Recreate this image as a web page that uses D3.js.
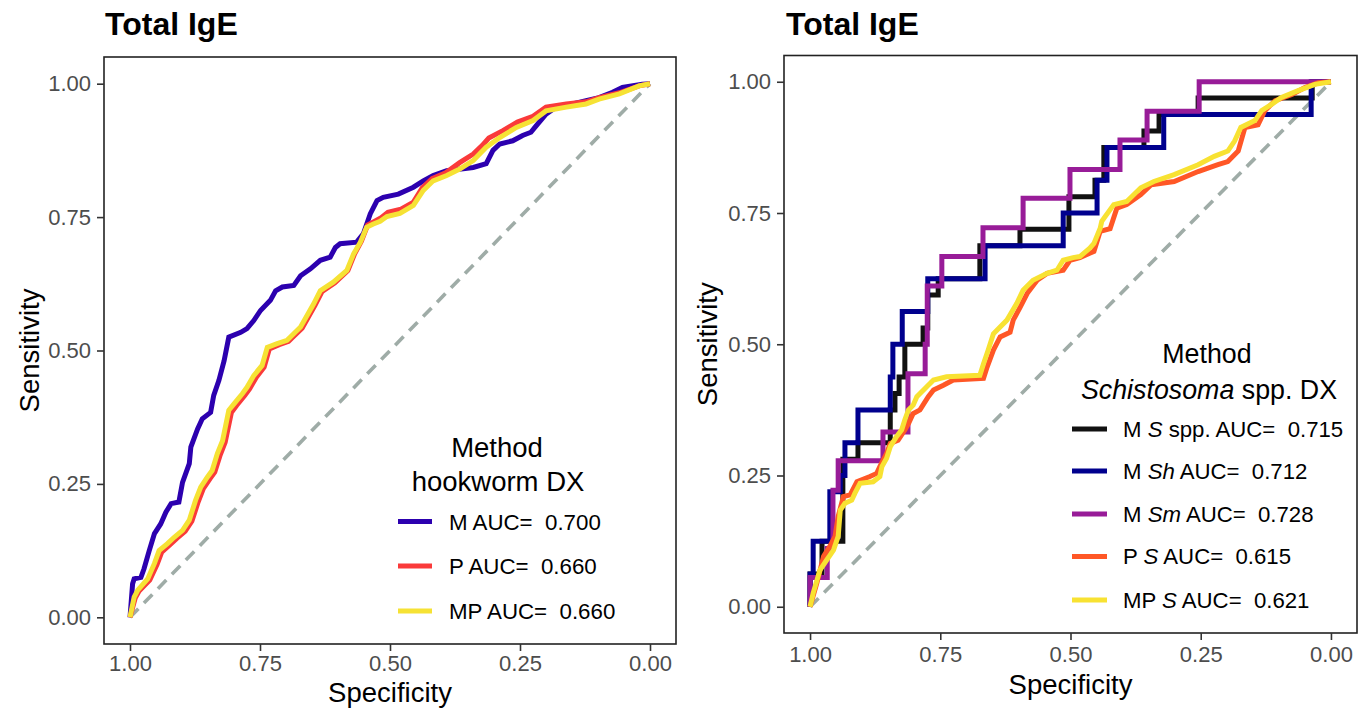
<!DOCTYPE html>
<html>
<head>
<meta charset="utf-8">
<script src="https://cdn.jsdelivr.net/npm/d3@7"></script>
<style>
  html, body { margin: 0; padding: 0; background: #fff; }
  svg text { font-family: "Liberation Sans", Arial, Helvetica, sans-serif; white-space: pre; }
</style>
</head>
<body>
<svg id="chart" width="1366" height="710"></svg>
<script>
// ---------------- DATA ----------------
const tickValues = [1.00, 0.75, 0.50, 0.25, 0.00];
const panelTitles = ["Total IgE", "Total IgE"];
const axisTitles = { x: "Specificity", y: "Sensitivity" };

// Left panel: hookworm DX  ([specificity, sensitivity])
const hookM = [[1,0],[0.995,0.063],[0.992,0.072],[0.979,0.075],[0.973,0.091],[0.963,0.125],[0.953,0.157],[0.941,0.175],[0.931,0.197],[0.921,0.213],[0.906,0.216],[0.899,0.253],[0.886,0.288],[0.883,0.319],[0.870,0.353],[0.861,0.372],[0.845,0.384],[0.839,0.416],[0.829,0.444],[0.819,0.481],[0.810,0.525],[0.787,0.534],[0.775,0.541],[0.762,0.556],[0.749,0.575],[0.730,0.594],[0.720,0.612],[0.707,0.619],[0.685,0.622],[0.672,0.640],[0.653,0.653],[0.634,0.669],[0.615,0.675],[0.605,0.693],[0.596,0.700],[0.564,0.703],[0.551,0.719],[0.538,0.756],[0.525,0.781],[0.513,0.787],[0.484,0.793],[0.455,0.806],[0.436,0.818],[0.417,0.828],[0.391,0.837],[0.340,0.843],[0.315,0.850],[0.302,0.875],[0.289,0.887],[0.264,0.893],[0.245,0.903],[0.229,0.909],[0.219,0.921],[0.200,0.943],[0.181,0.956],[0.149,0.962],[0.123,0.968],[0.098,0.974],[0.072,0.984],[0.053,0.993],[0.015,0.999],[0,1]];
const hookP = [[1,0],[0.990,0.036],[0.982,0.050],[0.962,0.070],[0.948,0.099],[0.939,0.122],[0.923,0.136],[0.910,0.148],[0.894,0.161],[0.881,0.180],[0.869,0.216],[0.859,0.241],[0.846,0.260],[0.837,0.272],[0.827,0.303],[0.817,0.328],[0.805,0.384],[0.795,0.397],[0.779,0.416],[0.770,0.428],[0.757,0.450],[0.742,0.469],[0.732,0.503],[0.713,0.511],[0.695,0.517],[0.689,0.523],[0.669,0.542],[0.644,0.585],[0.631,0.610],[0.606,0.627],[0.581,0.650],[0.568,0.681],[0.555,0.705],[0.543,0.735],[0.530,0.742],[0.517,0.749],[0.504,0.759],[0.479,0.765],[0.455,0.778],[0.438,0.805],[0.419,0.822],[0.393,0.833],[0.366,0.852],[0.340,0.868],[0.323,0.884],[0.310,0.898],[0.283,0.912],[0.255,0.928],[0.225,0.939],[0.200,0.956],[0.161,0.962],[0.123,0.966],[0.098,0.974],[0.059,0.983],[0.021,0.996],[0,1]];
const hookMP = [[1,0],[0.992,0.038],[0.985,0.051],[0.966,0.072],[0.953,0.101],[0.944,0.125],[0.928,0.138],[0.915,0.150],[0.899,0.163],[0.886,0.182],[0.874,0.219],[0.864,0.244],[0.851,0.263],[0.842,0.275],[0.832,0.307],[0.822,0.331],[0.810,0.388],[0.800,0.400],[0.784,0.419],[0.775,0.431],[0.762,0.453],[0.746,0.472],[0.736,0.506],[0.717,0.513],[0.698,0.519],[0.692,0.525],[0.672,0.544],[0.647,0.587],[0.634,0.612],[0.609,0.628],[0.583,0.650],[0.570,0.681],[0.557,0.703],[0.545,0.731],[0.532,0.737],[0.519,0.742],[0.506,0.751],[0.481,0.757],[0.455,0.772],[0.436,0.800],[0.417,0.818],[0.391,0.828],[0.366,0.840],[0.340,0.856],[0.315,0.881],[0.289,0.899],[0.257,0.918],[0.225,0.931],[0.200,0.949],[0.161,0.956],[0.123,0.962],[0.098,0.971],[0.059,0.981],[0.021,0.996],[0,1]];

// Right panel: Schistosoma spp. DX
const schMS = [[1,0],[1,0.0625],[0.977,0.0625],[0.977,0.125],[0.937,0.125],[0.937,0.281],[0.908,0.281],[0.908,0.3125],[0.846,0.3125],[0.846,0.375],[0.837,0.375],[0.837,0.406],[0.829,0.406],[0.829,0.4375],[0.818,0.4375],[0.818,0.5],[0.783,0.5],[0.783,0.531],[0.774,0.531],[0.774,0.594],[0.754,0.594],[0.754,0.625],[0.674,0.625],[0.674,0.6875],[0.597,0.6875],[0.597,0.719],[0.503,0.719],[0.503,0.781],[0.453,0.781],[0.453,0.8125],[0.436,0.8125],[0.436,0.875],[0.359,0.875],[0.359,0.906],[0.330,0.906],[0.330,0.9375],[0.255,0.9375],[0.255,0.969],[0.036,0.969],[0.036,1],[0,1]];
const schMSh = [[1,0],[1,0.0625],[0.994,0.0625],[0.994,0.125],[0.962,0.125],[0.962,0.219],[0.942,0.219],[0.942,0.25],[0.933,0.25],[0.933,0.3125],[0.908,0.3125],[0.908,0.375],[0.846,0.375],[0.846,0.4375],[0.841,0.4375],[0.841,0.5],[0.823,0.5],[0.823,0.5625],[0.774,0.5625],[0.774,0.625],[0.664,0.625],[0.664,0.6875],[0.514,0.6875],[0.514,0.75],[0.449,0.75],[0.449,0.8125],[0.430,0.8125],[0.430,0.875],[0.321,0.875],[0.321,0.9375],[0.038,0.9375],[0.038,1],[0,1]];
const schMSm = [[1,0],[1,0.0556],[0.967,0.0556],[0.967,0.111],[0.956,0.111],[0.956,0.222],[0.946,0.222],[0.946,0.278],[0.860,0.278],[0.860,0.333],[0.812,0.333],[0.812,0.444],[0.779,0.444],[0.779,0.5],[0.775,0.5],[0.775,0.611],[0.747,0.611],[0.747,0.667],[0.668,0.667],[0.668,0.722],[0.591,0.722],[0.591,0.778],[0.501,0.778],[0.501,0.833],[0.405,0.833],[0.405,0.889],[0.353,0.889],[0.353,0.944],[0.253,0.944],[0.253,1],[0,1]];
const schPS = [[1,0],[0.987,0.045],[0.974,0.096],[0.962,0.115],[0.952,0.134],[0.946,0.172],[0.936,0.210],[0.923,0.213],[0.910,0.238],[0.885,0.248],[0.872,0.254],[0.866,0.267],[0.853,0.292],[0.846,0.311],[0.831,0.317],[0.818,0.337],[0.811,0.349],[0.802,0.368],[0.789,0.375],[0.773,0.400],[0.763,0.413],[0.744,0.422],[0.725,0.432],[0.667,0.435],[0.661,0.454],[0.648,0.489],[0.635,0.514],[0.616,0.523],[0.610,0.546],[0.597,0.570],[0.583,0.597],[0.564,0.622],[0.545,0.635],[0.514,0.641],[0.501,0.660],[0.482,0.665],[0.455,0.677],[0.443,0.715],[0.424,0.720],[0.411,0.759],[0.392,0.766],[0.365,0.785],[0.345,0.804],[0.301,0.810],[0.255,0.829],[0.217,0.842],[0.198,0.848],[0.178,0.868],[0.165,0.913],[0.140,0.918],[0.127,0.945],[0.107,0.964],[0.075,0.976],[0.050,0.989],[0.024,0.998],[0,1]];
const schMPS = [[1,0],[0.994,0.026],[0.981,0.070],[0.968,0.089],[0.955,0.108],[0.946,0.134],[0.942,0.184],[0.933,0.197],[0.920,0.203],[0.914,0.216],[0.904,0.235],[0.879,0.238],[0.866,0.248],[0.862,0.267],[0.853,0.283],[0.846,0.305],[0.834,0.324],[0.824,0.337],[0.818,0.356],[0.811,0.375],[0.802,0.384],[0.795,0.400],[0.776,0.419],[0.763,0.432],[0.738,0.438],[0.674,0.441],[0.667,0.463],[0.658,0.489],[0.648,0.520],[0.622,0.546],[0.603,0.578],[0.591,0.603],[0.572,0.622],[0.545,0.635],[0.526,0.641],[0.514,0.660],[0.495,0.665],[0.482,0.667],[0.463,0.683],[0.455,0.692],[0.443,0.721],[0.440,0.734],[0.417,0.766],[0.392,0.772],[0.365,0.798],[0.340,0.810],[0.301,0.823],[0.255,0.842],[0.224,0.858],[0.198,0.868],[0.185,0.887],[0.173,0.913],[0.146,0.926],[0.133,0.945],[0.114,0.957],[0.095,0.970],[0.063,0.983],[0.031,0.995],[0,1]];

const leftLegendTitle = ["Method", "hookworm DX"];
const leftLabels = [["M AUC=  0.700"], ["P AUC=  0.660"], ["MP AUC=  0.660"]];
const rightLegendTitle = ["Method", [["Schistosoma", true], [" spp. DX", false]]];
const rightLabels = [
  [["M ", false], ["S", true], [" spp. AUC=  0.715", false]],
  [["M ", false], ["Sh", true], [" AUC=  0.712", false]],
  [["M ", false], ["Sm", true], [" AUC=  0.728", false]],
  [["P ", false], ["S", true], [" AUC=  0.615", false]],
  [["MP ", false], ["S", true], [" AUC=  0.621", false]]
];
const leftColors = ["#2C00AF", "#FA3A3A", "#F6E234"];
const rightColors = ["#111111", "#00008E", "#981C98", "#FF5726", "#F8E232"];

// ---------------- DRAW ----------------
const svg = d3.select("#chart");
const FONT = '"Liberation Sans", Arial, Helvetica, sans-serif';

function panel(cfg) {
  const { L, R, T, B, series, colors, titleX } = cfg;
  const x = d3.scaleLinear().domain([1.05, -0.05]).range([L, R]);
  const y = d3.scaleLinear().domain([-0.05, 1.05]).range([B, T]);
  const g = svg.append("g");

  // title
  g.append("text").attr("x", titleX).attr("y", 35)
    .attr("font-size", 32).attr("font-weight", "bold").attr("fill", "#000")
    .text(cfg.title);

  // diagonal reference
  g.append("line")
    .attr("x1", x(1)).attr("y1", y(0)).attr("x2", x(0)).attr("y2", y(1))
    .attr("stroke", "#9FACA7").attr("stroke-width", 3.6)
    .attr("stroke-dasharray", "12,8");

  const line = d3.line().x(d => x(d[0])).y(d => y(d[1]));
  series.forEach((s, i) => {
    g.append("path").attr("d", line(s)).attr("fill", "none")
      .attr("stroke", colors[i]).attr("stroke-width", 5)
      .attr("stroke-linejoin", "miter").attr("stroke-linecap", "butt");
  });

  // border
  g.append("rect").attr("x", L).attr("y", T).attr("width", R - L).attr("height", B - T)
    .attr("fill", "none").attr("stroke", "#222").attr("stroke-width", 1.6);

  // axes
  const fmt = d3.format(".2f");
  const xa = g.append("g").attr("transform", `translate(0,${B})`)
    .call(d3.axisBottom(x).tickValues(tickValues).tickFormat(fmt).tickSize(7).tickPadding(cfg.xPad));
  const ya = g.append("g").attr("transform", `translate(${L},0)`)
    .call(d3.axisLeft(y).tickValues(tickValues).tickFormat(fmt).tickSize(7).tickPadding(6));
  [xa, ya].forEach(a => {
    a.select(".domain").remove();
    a.selectAll(".tick line").attr("stroke", "#333").attr("stroke-width", 1.6);
    a.selectAll(".tick text").attr("fill", "#4D4D4D").attr("font-size", 22)
      .attr("font-family", FONT);
  });

  // axis titles
  g.append("text").attr("x", (L + R) / 2).attr("y", cfg.xTitleY)
    .attr("text-anchor", "middle").attr("font-size", 27.5).attr("fill", "#000")
    .text(axisTitles.x);
  g.append("text")
    .attr("transform", `translate(${cfg.yTitleX},${(T + B) / 2}) rotate(-90)`)
    .attr("text-anchor", "middle").attr("font-size", 27.5).attr("fill", "#000")
    .text(axisTitles.y);
  return g;
}

function addRich(sel, parts) {
  parts.forEach(p => {
    sel.append("tspan").attr("font-style", p[1] ? "italic" : "normal").text(p[0]);
  });
}

// Left panel
const gl = panel({ L: 104, R: 676, T: 57, B: 644, series: [hookM, hookP, hookMP],
  colors: leftColors, title: panelTitles[0], titleX: 105, xTitleY: 702, yTitleX: 39, xPad: 4.5 });

// left legend
gl.append("text").attr("x", 497).attr("y", 457).attr("text-anchor", "middle")
  .attr("font-size", 27.5).text(leftLegendTitle[0]);
gl.append("text").attr("x", 498).attr("y", 491).attr("text-anchor", "middle")
  .attr("font-size", 27.5).text(leftLegendTitle[1]);
const lKeyY = [521.5, 566, 611];
leftLabels.forEach((lab, i) => {
  gl.append("line").attr("x1", 398).attr("x2", 432).attr("y1", lKeyY[i]).attr("y2", lKeyY[i])
    .attr("stroke", leftColors[i]).attr("stroke-width", 5);
  gl.append("text").attr("x", 449).attr("y", lKeyY[i] + 8).attr("font-size", 22.3)
    .attr("fill", "#000").text(lab[0]);
});

// Right panel
const gr = panel({ L: 784, R: 1357, T: 55.5, B: 633, series: [schMS, schMSh, schMSm, schPS, schMPS],
  colors: rightColors, title: panelTitles[1], titleX: 786, xTitleY: 694, yTitleX: 717, xPad: 6 });

gr.append("text").attr("x", 1207).attr("y", 363).attr("text-anchor", "middle")
  .attr("font-size", 26.8).text(rightLegendTitle[0]);
addRich(gr.append("text").attr("x", 1209).attr("y", 399).attr("text-anchor", "middle")
  .attr("font-size", 26.8), rightLegendTitle[1]);
const rKeyY = [429, 471, 514, 556.5, 600];
rightLabels.forEach((lab, i) => {
  gr.append("line").attr("x1", 1072).attr("x2", 1107).attr("y1", rKeyY[i]).attr("y2", rKeyY[i])
    .attr("stroke", rightColors[i]).attr("stroke-width", 5);
  addRich(gr.append("text").attr("x", 1123).attr("y", rKeyY[i] + 7.5).attr("font-size", 22.2)
    .attr("fill", "#000"), lab);
});
</script>
</body>
</html>
